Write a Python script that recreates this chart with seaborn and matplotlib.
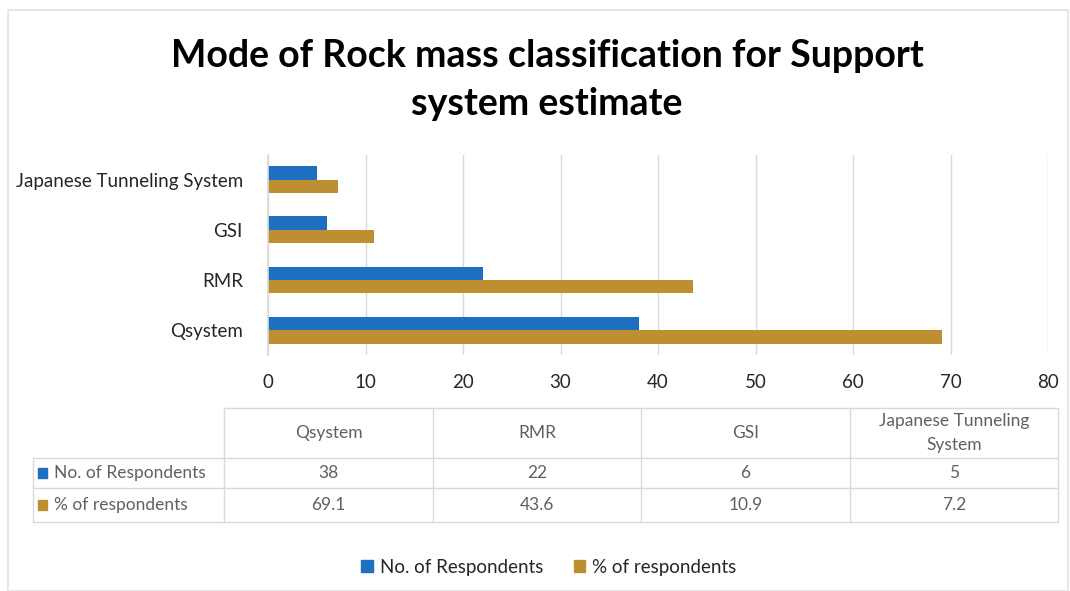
import matplotlib
matplotlib.use("Agg")
import pandas as pd
import matplotlib.pyplot as plt
import matplotlib.patches as mpatches
import seaborn as sns

# ── Data ──
CATEGORIES = ['Qsystem', 'RMR', 'GSI', 'Japanese Tunneling System']
TABLE_HEADERS = ['Qsystem', 'RMR', 'GSI', 'Japanese Tunneling\nSystem']
RESPONDENTS = [38, 22, 6, 5]
PCT_RESPONDENTS = [69.1, 43.6, 10.9, 7.2]
SERIES = ['No. of Respondents', '% of respondents']
COLORS = {'No. of Respondents': '#1F6FC0', '% of respondents': '#BE8F31'}

W, H = 1070, 591
FONT = ['Lato', 'DejaVu Sans']

df = pd.DataFrame({
    'category': CATEGORIES * 2,
    'series': [SERIES[0]] * 4 + [SERIES[1]] * 4,
    'value': RESPONDENTS + PCT_RESPONDENTS,
})

sns.set_theme(style='white')
plt.rcParams['font.family'] = FONT

fig = plt.figure(figsize=(W / 100, H / 100), dpi=100)

# faint outer border of the chart area
fig.patches.append(mpatches.Rectangle((8 / W, 0), (W - 10) / W, (H - 10) / H,
                                      transform=fig.transFigure, fill=False,
                                      edgecolor='#e3e3e3', linewidth=1.2))

# ── bar chart ──
ax = fig.add_axes([268 / W, (H - 355) / H, (1048 - 268) / W, 200 / H])
sns.barplot(data=df, y='category', x='value', hue='series',
            order=CATEGORIES[::-1], hue_order=SERIES, palette=COLORS,
            orient='h', width=0.54, gap=0, saturation=1, errorbar=None,
            legend=False, linewidth=0, ax=ax)
ax.set_xlim(0, 80)
ax.set_xticks(range(0, 81, 10))
ax.set_xlabel('')
ax.set_ylabel('')
ax.grid(axis='x', color='#d9d9d9', linewidth=1)
ax.set_axisbelow(True)
for s in ['top', 'right', 'bottom']:
    ax.spines[s].set_visible(False)
ax.spines['left'].set_color('#d9d9d9')
ax.tick_params(axis='both', length=0, labelsize=13.5, labelcolor='#262626')
ax.tick_params(axis='x', pad=14)
ax.tick_params(axis='y', pad=18)

fig.text(547 / W, 1 - 80 / H, 'Mode of Rock mass classification for Support\nsystem estimate',
         ha='center', va='center', fontsize=27, fontweight='bold', color='black',
         linespacing=1.5, family=FONT)

# ── data table below the chart ──
tab = fig.add_axes([0, 0, 1, 1])
tab.set_xlim(0, W)
tab.set_ylim(H, 0)
tab.axis('off')

col_x = [33, 224, 433, 641, 850, 1058]
row_y = [408, 458, 488, 522]
line_kw = dict(color='#d9d9d9', linewidth=1)

# horizontal lines
tab.plot([col_x[1], col_x[-1]], [row_y[0]] * 2, **line_kw)
for y in row_y[1:]:
    tab.plot([col_x[0], col_x[-1]], [y] * 2, **line_kw)
# vertical lines
tab.plot([col_x[0]] * 2, [row_y[1], row_y[-1]], **line_kw)
for x in col_x[1:]:
    tab.plot([x] * 2, [row_y[0], row_y[-1]], **line_kw)

txt_kw = dict(fontsize=12.5, color='#606060', family=FONT)
for i, head in enumerate(TABLE_HEADERS):
    cx = (col_x[i + 1] + col_x[i + 2]) / 2
    tab.text(cx, (row_y[0] + row_y[1]) / 2, head, ha='center', va='center',
             linespacing=1.55, **txt_kw)

rows = [RESPONDENTS, PCT_RESPONDENTS]
for r, (name, vals) in enumerate(zip(SERIES, rows)):
    cy = (row_y[r + 1] + row_y[r + 2]) / 2
    tab.add_patch(mpatches.Rectangle((38, cy - 5), 9, 10, color=COLORS[name]))
    tab.text(54, cy, name, ha='left', va='center', **txt_kw)
    for i, v in enumerate(vals):
        cx = (col_x[i + 1] + col_x[i + 2]) / 2
        tab.text(cx, cy, f'{v:g}', ha='center', va='center', **txt_kw)

# ── legend ──
handles = [mpatches.Patch(color=COLORS[s], label=s) for s in SERIES]
fig.legend(handles=handles, loc='center', bbox_to_anchor=(549 / W, 1 - 567 / H),
           ncol=2, frameon=False, handlelength=0.6, handleheight=0.6,
           handletextpad=0.4, columnspacing=1.6,
           prop={'family': FONT, 'size': 13.5})

plt.savefig('out.png', dpi=100)
